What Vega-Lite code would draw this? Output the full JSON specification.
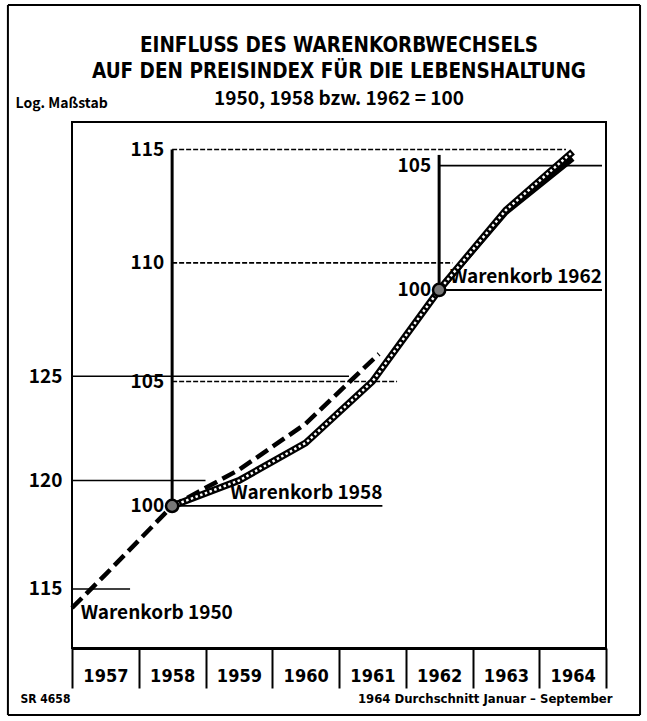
{
  "$schema": "https://vega.github.io/schema/vega-lite/v6.json",
  "width": 534,
  "height": 526,
  "autosize": {"type": "none"},
  "padding": {"left": 72, "top": 122, "right": 41, "bottom": 73},
  "background": "white",
  "config": {"view": {"stroke": "black", "strokeWidth": 2}, "font": "DejaVu Sans Condensed"},
  "title": {
    "text": ["EINFLUSS DES WARENKORBWECHSELS", "AUF DEN PREISINDEX FÜR DIE LEBENSHALTUNG"],
    "subtitle": "1950, 1958 bzw. 1962 = 100",
    "anchor": "middle",
    "font": "DejaVu Sans Condensed",
    "fontSize": 20.5,
    "fontWeight": "bold",
    "lineHeight": 26,
    "color": "black",
    "subtitleFont": "Noto Sans CJK JP, DejaVu Sans Condensed",
    "subtitleFontSize": 19,
    "subtitleFontWeight": "bold",
    "subtitleColor": "black",
    "subtitlePadding": 7,
    "offset": -105
  },
  "encoding": {
    "x": {
      "field": "year",
      "type": "quantitative",
      "scale": {"domain": [1956.5, 1964.5], "nice": false, "zero": false, "clamp": false},
      "axis": {
        "values": [1956.5, 1957.5, 1958.5, 1959.5, 1960.5, 1961.5, 1962.5, 1963.5, 1964.5],
        "labelExpr": "datum.value < 1964 ? format(datum.value + 0.5, 'd') : ''",
        "labelOffset": 33.4,
        "labelFlush": false,
        "labelOverlap": false,
        "labelBound": false,
        "tickSize": 40,
        "tickWidth": 2,
        "tickColor": "black",
        "domainColor": "black",
        "domainWidth": 3,
        "grid": false,
        "labelFont": "DejaVu Sans Condensed",
        "labelFontWeight": "bold",
        "labelFontSize": 18,
        "labelColor": "black",
        "labelBaseline": "middle",
        "labelPadding": -12,
        "title": "1964 Durchschnitt Januar – September",
        "titleFont": "DejaVu Sans Condensed",
        "titleFontSize": 13,
        "titleFontWeight": "bold",
        "titleColor": "black",
        "titleX": 540,
        "titleY": 50,
        "titleAlign": "right",
        "titleBaseline": "middle"
      }
    }
  },
  "layer": [
    {
      "encoding": {
        "y": {
          "field": "index",
          "type": "quantitative",
          "scale": {"type": "log", "domain": [112.37, 138.11], "nice": false, "zero": false, "clamp": false},
          "axis": {
            "values": [115, 120, 125],
            "ticks": false,
            "domain": false,
            "grid": false,
            "labelPadding": 10,
            "labelFont": "Noto Sans CJK JP, DejaVu Sans Condensed",
            "labelFontWeight": "bold",
            "labelFontSize": 19,
            "labelColor": "black",
            "title": "Log. Maßstab",
            "titleAngle": 0,
            "titleX": -57,
            "titleY": -19,
            "titleAlign": "left",
            "titleBaseline": "middle",
            "titleFont": "Noto Sans CJK JP, DejaVu Sans Condensed",
            "titleFontSize": 14,
            "titleFontWeight": "bold",
            "titleColor": "black"
          }
        }
      },
      "layer": [
        {
          "data": {"values": [
            {"side": "left", "bx": 1955.54, "bx2": 1955.54, "by": 109.46, "by2": 144.6},
            {"side": "right", "bx": 1965.01, "bx2": 1965.01, "by": 109.46, "by2": 144.6},
            {"side": "top", "bx": 1955.54, "bx2": 1965.01, "by": 144.6, "by2": 144.6},
            {"side": "bottom", "bx": 1955.54, "bx2": 1965.01, "by": 109.46, "by2": 109.46}
          ]},
          "mark": {"type": "rule", "color": "black", "strokeWidth": 2, "clip": false},
          "encoding": {
            "x": {"field": "bx", "type": "quantitative"},
            "x2": {"field": "bx2"},
            "y": {"field": "by", "type": "quantitative"},
            "y2": {"field": "by2"}
          }
        },
        {
          "data": {"values": [
            {"year": 1956.5, "year2": 1960.65, "index": 125},
            {"year": 1956.5, "year2": 1958.5, "index": 120},
            {"year": 1956.5, "year2": 1957.37, "index": 115}
          ]},
          "mark": {"type": "rule", "color": "black", "strokeWidth": 1.5},
          "encoding": {"x2": {"field": "year2"}}
        },
        {
          "data": {"values": [
            {"year": 1956.5, "index": 114.15},
            {"year": 1957, "index": 115.65},
            {"year": 1958, "index": 118.8},
            {"year": 1959, "index": 120.5},
            {"year": 1960, "index": 122.7},
            {"year": 1961, "index": 125.8},
            {"year": 1961.1, "index": 126.1}
          ]},
          "mark": {"type": "line", "color": "black", "strokeWidth": 4.5, "strokeDash": [14, 6]},
          "encoding": {"order": {"field": "year"}}
        },
        {
          "data": {"values": [{"year": 1957.77, "index": 113.92, "label": "Warenkorb 1950"}]},
          "mark": {"type": "text", "font": "Noto Sans CJK JP, DejaVu Sans Condensed", "fontWeight": "bold", "fontSize": 19, "color": "black", "align": "center", "baseline": "middle"},
          "encoding": {"text": {"field": "label"}}
        }
      ]
    },
    {
      "encoding": {
        "y": {
          "field": "index",
          "type": "quantitative",
          "scale": {"type": "log", "domain": [86.9, 106.81], "nice": false, "zero": false},
          "axis": {
            "orient": "right",
            "labels": false,
            "ticks": false,
            "domain": false,
            "grid": false,
            "title": "SR 4658",
            "titleAngle": 0,
            "titleX": -586,
            "titleY": 576,
            "titleAlign": "left",
            "titleBaseline": "middle",
            "titleFont": "DejaVu Sans Condensed",
            "titleFontSize": 12,
            "titleFontWeight": "bold",
            "titleColor": "black"
          }
        }
      },
      "layer": [
        {
          "data": {"values": [{"year": 1962, "index": 100, "index2": 105.44}]},
          "mark": {"type": "rule", "color": "black", "strokeWidth": 3},
          "encoding": {"y2": {"field": "index2"}}
        },
        {
          "data": {"values": [
            {"year": 1962, "year2": 1964.44, "index": 105},
            {"year": 1962, "year2": 1964.44, "index": 100}
          ]},
          "mark": {"type": "rule", "color": "black", "strokeWidth": 1.8},
          "encoding": {"x2": {"field": "year2"}}
        },
        {
          "data": {"values": [
            {"year": 1962, "index": 105, "label": "105"},
            {"year": 1962, "index": 100, "label": "100"}
          ]},
          "mark": {"type": "text", "font": "Noto Sans CJK JP, DejaVu Sans Condensed", "fontWeight": "bold", "fontSize": 19, "color": "black", "align": "right", "baseline": "middle", "dx": -8},
          "encoding": {"text": {"field": "label"}}
        },
        {
          "data": {"values": [
            {"year": 1962, "index": 100},
            {"year": 1963, "index": 103.1},
            {"year": 1964, "index": 105.3}
          ]},
          "mark": {"type": "line", "color": "black", "strokeWidth": 6},
          "encoding": {"order": {"field": "year"}}
        },
        {
          "data": {"values": [{"year": 1964.44, "index": 100, "label": "Warenkorb 1962"}]},
          "mark": {"type": "text", "font": "Noto Sans CJK JP, DejaVu Sans Condensed", "fontWeight": "bold", "fontSize": 19, "color": "black", "align": "right", "baseline": "bottom", "dy": -3},
          "encoding": {"text": {"field": "label"}}
        }
      ]
    },
    {
      "encoding": {
        "y": {
          "field": "index",
          "type": "quantitative",
          "scale": {"type": "log", "domain": [94.58, 116.25], "nice": false, "zero": false},
          "axis": null
        }
      },
      "layer": [
        {
          "data": {"values": [{"year": 1958, "index": 100, "index2": 115}]},
          "mark": {"type": "rule", "color": "black", "strokeWidth": 3},
          "encoding": {"y2": {"field": "index2"}}
        },
        {
          "data": {"values": [
            {"year": 1958, "year2": 1963.9, "index": 115},
            {"year": 1958, "year2": 1962.2, "index": 110},
            {"year": 1958, "year2": 1961.37, "index": 105}
          ]},
          "mark": {"type": "rule", "color": "black", "strokeWidth": 1.6, "strokeDash": [5, 2]},
          "encoding": {"x2": {"field": "year2"}}
        },
        {
          "data": {"values": [{"year": 1958, "year2": 1961.15, "index": 100}]},
          "mark": {"type": "rule", "color": "black", "strokeWidth": 1.8},
          "encoding": {"x2": {"field": "year2"}}
        },
        {
          "data": {"values": [
            {"year": 1958, "index": 115, "label": "115"},
            {"year": 1958, "index": 110, "label": "110"},
            {"year": 1958, "index": 105, "label": "105"},
            {"year": 1958, "index": 100, "label": "100"}
          ]},
          "mark": {"type": "text", "font": "Noto Sans CJK JP, DejaVu Sans Condensed", "fontWeight": "bold", "fontSize": 19, "color": "black", "align": "right", "baseline": "middle", "dx": -8},
          "encoding": {"text": {"field": "label"}}
        },
        {
          "data": {"name": "wk58", "values": [
            {"year": 1958, "index": 100},
            {"year": 1959, "index": 101.0},
            {"year": 1960, "index": 102.5},
            {"year": 1961, "index": 105.0},
            {"year": 1962, "index": 108.84},
            {"year": 1963, "index": 112.3},
            {"year": 1964, "index": 114.9}
          ]},
          "layer": [
            {"mark": {"type": "line", "color": "black", "strokeWidth": 7}, "encoding": {"order": {"field": "year"}}},
            {"mark": {"type": "line", "color": "white", "strokeWidth": 2.5, "strokeDash": [2.5, 2.5]}, "encoding": {"order": {"field": "year"}}}
          ]
        },
        {
          "data": {"values": [{"year": 1961.15, "index": 100, "label": "Warenkorb 1958"}]},
          "mark": {"type": "text", "font": "Noto Sans CJK JP, DejaVu Sans Condensed", "fontWeight": "bold", "fontSize": 19, "color": "black", "align": "right", "baseline": "bottom", "dy": -3},
          "encoding": {"text": {"field": "label"}}
        },
        {
          "data": {"values": [
            {"year": 1958, "index": 100},
            {"year": 1962, "index": 108.84}
          ]},
          "mark": {"type": "point", "filled": true, "size": 150, "color": "#777777", "stroke": "black", "strokeWidth": 2.5, "opacity": 1}
        }
      ]
    }
  ],
  "resolve": {"scale": {"y": "independent"}}
}
